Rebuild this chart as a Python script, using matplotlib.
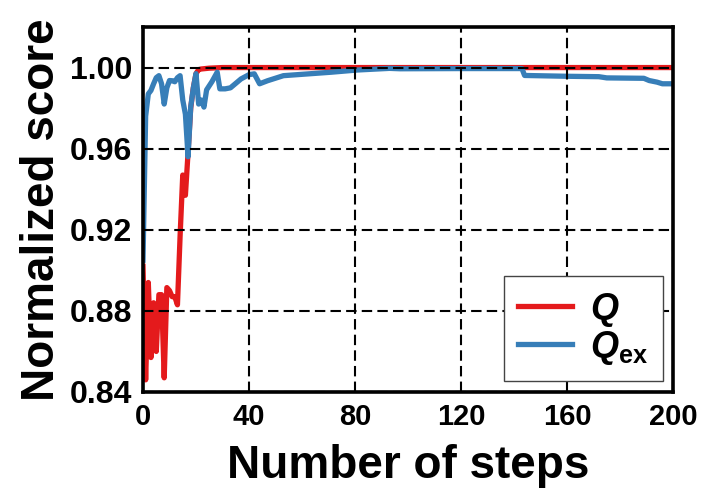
import matplotlib
matplotlib.use("Agg")
import matplotlib.pyplot as plt

# ---- data ----
q_steps = [0, 1, 2, 3, 4, 5, 6, 7, 8, 9, 10, 11, 12, 13, 14, 15, 16, 17, 18, 19, 20, 21, 22, 25, 30, 200]
q_values = [0.902, 0.846, 0.894, 0.857, 0.884, 0.860, 0.888, 0.888, 0.847, 0.8915, 0.890, 0.887, 0.887,
            0.883, 0.917, 0.947, 0.937, 0.958, 0.980, 0.990, 0.997, 0.999, 0.9993, 0.9997, 1.000, 1.000]

qex_steps = [0, 1, 2, 3, 4, 5, 6, 7, 8, 9, 10, 11, 12, 13, 14, 15, 16, 17, 18, 19, 20, 21, 22, 23, 24,
             26, 28, 29, 31, 33, 37, 40, 42, 44, 47, 53, 71, 81, 93, 97, 120, 143, 144, 160, 172,
             175, 189, 191, 194, 196, 200]
qex_values = [0.905, 0.976, 0.987, 0.9887, 0.992, 0.995, 0.996, 0.992, 0.982, 0.990, 0.9936, 0.9935, 0.993,
              0.995, 0.996, 0.984, 0.977, 0.956, 0.9805, 0.990, 0.997, 0.982, 0.984, 0.9805, 0.989,
              0.993, 0.9977, 0.9895, 0.9895, 0.990, 0.9944, 0.9965, 0.9969, 0.992, 0.9935, 0.996, 0.9977,
              0.9988, 0.9996, 0.9994, 0.9995, 0.9995, 0.9961, 0.9957, 0.9955,
              0.9949, 0.9947, 0.9936, 0.9928, 0.992, 0.992]

x_ticks = [0, 40, 80, 120, 160, 200]
y_ticks = [0.84, 0.88, 0.92, 0.96, 1.00]
y_tick_labels = ["0.84", "0.88", "0.92", "0.96", "1.00"]
series_labels = [r"$\mathbfit{Q}$", r"$\mathbfit{Q}_{\mathbf{ex}}$"]
x_label = "Number of steps"
y_label = "Normalized score"

# ---- style ----
plt.rcParams["font.family"] = ["Liberation Sans", "DejaVu Sans"]
plt.rcParams["font.weight"] = "bold"
plt.rcParams["mathtext.fontset"] = "custom"
plt.rcParams["mathtext.rm"] = "Liberation Sans:bold"
plt.rcParams["mathtext.bf"] = "Liberation Sans:bold"
plt.rcParams["mathtext.it"] = "Liberation Sans:italic:bold"
plt.rcParams["mathtext.bfit"] = "Liberation Sans:italic:bold"

RED = "#e41a1c"
BLUE = "#377eb8"

fig = plt.figure(figsize=(7.2, 5.04), dpi=100)
ax = fig.add_axes([143 / 720, 112 / 504, 530 / 720, 365 / 504])

ax.plot(q_steps, q_values, color=RED, lw=3.8, label=series_labels[0], zorder=2)
ax.plot(qex_steps, qex_values, color=BLUE, lw=3.8, label=series_labels[1], zorder=2.1)

ax.set_xlim(0, 200)
ax.set_ylim(0.84, 1.02)
ax.set_xticks(x_ticks)
ax.set_yticks(y_ticks)
ax.set_yticklabels(y_tick_labels)
ax.tick_params(axis="x", length=0, pad=8, labelsize=21)
ax.tick_params(axis="y", length=0, pad=8, labelsize=23)
for lab in ax.get_xticklabels() + ax.get_yticklabels():
    lab.set_fontweight("bold")

ax.grid(True, color="black", lw=1.5, linestyle=(0, (5, 2.5)))
ax.set_axisbelow(False)

for sp in ax.spines.values():
    sp.set_linewidth(2.6)
    sp.set_color("black")

ax.set_xlabel(x_label, fontsize=33, fontweight="bold", labelpad=9)
ax.set_ylabel(y_label, fontsize=33, fontweight="bold", labelpad=4)

leg = ax.legend(loc="lower right", bbox_to_anchor=(1 - 10 / 530, 11 / 365), borderaxespad=0,
                fontsize=26, handlelength=1.5, handletextpad=0.5, labelspacing=0.0,
                fancybox=False, framealpha=1, edgecolor="#444444", borderpad=0.4)
leg.get_frame().set_linewidth(1.0)
leg.set_zorder(5)

fig.savefig("out.png", dpi=100)
